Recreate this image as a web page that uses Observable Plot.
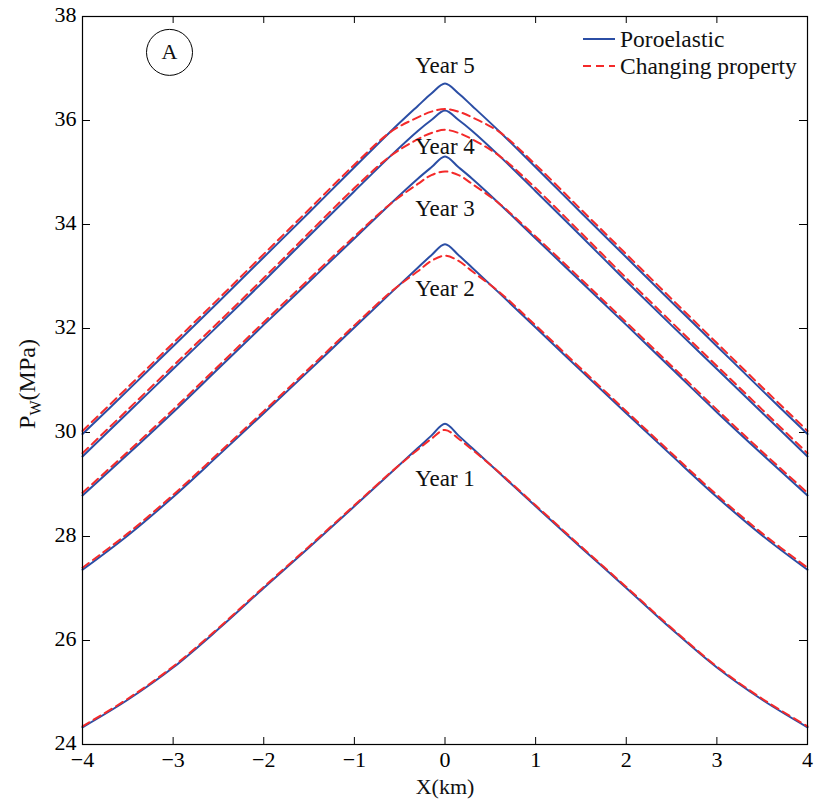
<!DOCTYPE html>
<html><head><meta charset="utf-8">
<script src="https://cdn.jsdelivr.net/npm/d3@7"></script>
<script src="https://cdn.jsdelivr.net/npm/@observablehq/plot@0.6"></script>
<style>body{margin:0;background:#fff}</style>
</head><body><div id="chart"></div>
<script>
// ---- data ----
const xs = [-4,-3.5,-3,-2.5,-2,-1.5,-1,-0.6,-0.3,-0.15,0,0.15,0.3,0.6,1,1.5,2,2.5,3,3.5,4];
const years = ["Year 1","Year 2","Year 3","Year 4","Year 5"];
const poro1 = [24.33,24.86,25.48,26.22,27.01,27.79,28.58,29.22,29.7,29.94,30.17,29.94,29.7,29.22,28.58,27.79,27.01,26.22,25.48,24.86,24.33];
const poro2 = [27.36,28.02,28.76,29.56,30.37,31.19,32.02,32.68,33.17,33.41,33.62,33.41,33.17,32.68,32.02,31.19,30.37,29.56,28.76,28.02,27.36];
const poro3 = [28.79,29.58,30.39,31.23,32.07,32.9,33.73,34.4,34.88,35.1,35.31,35.1,34.88,34.4,33.73,32.9,32.07,31.23,30.39,29.58,28.79];
const poro4 = [29.54,30.38,31.22,32.06,32.91,33.78,34.64,35.32,35.8,36.01,36.19,36.01,35.8,35.32,34.64,33.78,32.91,32.06,31.22,30.38,29.54];
const poro5 = [29.97,30.81,31.66,32.51,33.37,34.23,35.1,35.79,36.28,36.52,36.71,36.52,36.28,35.79,35.1,34.23,33.37,32.51,31.66,30.81,29.97];
const chg1 = [24.35,24.88,25.5,26.24,27.03,27.81,28.6,29.23,29.67,29.88,30.05,29.88,29.67,29.23,28.6,27.81,27.03,26.24,25.5,24.88,24.35];
const chg2 = [27.4,28.06,28.8,29.6,30.41,31.23,32.06,32.7,33.1,33.3,33.4,33.3,33.1,32.7,32.06,31.23,30.41,29.6,28.8,28.06,27.4];
const chg3 = [28.84,29.63,30.44,31.28,32.12,32.95,33.77,34.4,34.78,34.95,35.02,34.95,34.78,34.4,33.77,32.95,32.12,31.28,30.44,29.63,28.84];
const chg4 = [29.6,30.44,31.28,32.12,32.97,33.84,34.7,35.32,35.64,35.76,35.82,35.76,35.64,35.32,34.7,33.84,32.97,32.12,31.28,30.44,29.6];
const chg5 = [30.03,30.87,31.72,32.57,33.43,34.29,35.15,35.78,36.06,36.17,36.22,36.17,36.06,35.78,35.15,34.29,33.43,32.57,31.72,30.87,30.03];
const labelY = [29.12,32.77,34.31,35.49,37.06];
const xTicks = [-4,-3,-2,-1,0,1,2,3,4];
const yTicks = [24,26,28,30,32,34,36,38];
const legendNames = ["Poroelastic","Changing property"];
const panel = {x:-3.04, y:37.31, text:"A"};

// ---- build tables ----
const poroSeries = [poro1,poro2,poro3,poro4,poro5];
const chgSeries = [chg1,chg2,chg3,chg4,chg5];
const rows = (series) => series.flatMap((vals,k) => vals.map((v,i) => ({x:xs[i], y:v, year:years[k]})));
const poroRows = rows(poroSeries);
const chgRows = rows(chgSeries);

const BLUE = "#2b4ea5", RED = "#f42a2a";
const FONT = "'Liberation Serif','Times New Roman',serif";
const fmt = d => d < 0 ? "\u2212" + Math.abs(d) : String(d);
const tx = 8/90.6, ty = 7/52;

const chart = Plot.plot({
  width: 814, height: 799,
  marginLeft: 82, marginRight: 7, marginTop: 16, marginBottom: 55,
  style: {fontFamily: FONT, fontSize: "22px", background: "#fff", color: "#000"},
  x: {domain: [-4, 4]},
  y: {domain: [24, 38]},
  marks: [
    Plot.axisX(xTicks, {anchor: "bottom", tickSize: 0, tickPadding: 7, label: null, tickFormat: fmt, fontSize: 22}),
    Plot.axisY(yTicks, {anchor: "left", tickSize: 0, tickPadding: 6, label: null, tickFormat: fmt, fontSize: 22, dy: -2}),
    Plot.ruleX(xTicks, {x: d => d, y1: 24, y2: 24 + ty, stroke: "black"}),
    Plot.ruleX(xTicks, {x: d => d, y1: 38 - ty, y2: 38, stroke: "black"}),
    Plot.ruleY(yTicks, {y: d => d, x1: -4, x2: -4 + tx, stroke: "black"}),
    Plot.ruleY(yTicks, {y: d => d, x1: 4 - tx, x2: 4, stroke: "black"}),
    Plot.line(poroRows, {x: "x", y: "y", z: "year", stroke: BLUE, strokeWidth: 2, curve: "catmull-rom"}),
    Plot.line(chgRows, {x: "x", y: "y", z: "year", stroke: RED, strokeWidth: 2, strokeDasharray: "8,5", curve: "catmull-rom"}),
    Plot.text(years, {x: () => 0, y: (d, i) => labelY[i], text: d => d, fontSize: 23, fill: "#111"}),
    Plot.dot([panel], {x: "x", y: "y", r: 23, stroke: "black", strokeWidth: 1, fill: "none"}),
    Plot.text([panel], {x: "x", y: "y", text: "text", fontSize: 22, fill: "#111"}),
    Plot.frame({stroke: "black", strokeWidth: 1.2})
  ]
});

const svg = d3.select(chart);
// y label with subscript
const yl = svg.append("text")
  .attr("transform", "translate(35,384) rotate(-90)")
  .attr("text-anchor", "middle")
  .attr("font-family", FONT).attr("font-size", 24).attr("fill", "#111");
yl.append("tspan").text("P");
yl.append("tspan").attr("font-size", 16).attr("dy", 6).text("W");
yl.append("tspan").attr("dy", -6).text("(MPa)");
// x label
svg.append("text").attr("x", 445).attr("y", 794).attr("text-anchor", "middle")
  .attr("font-family", FONT).attr("font-size", 22).attr("fill", "#111").text("X(km)");
// legend
const lg = svg.append("g").attr("font-family", FONT).attr("font-size", 23.5).attr("fill", "#111")
  .attr("text-anchor", "start");
[[BLUE, null], [RED, "8,5"]].forEach(([c, dash], i) => {
  const yy = 39 + i * 27;
  const ln = lg.append("line").attr("x1", 583).attr("x2", 615).attr("y1", yy).attr("y2", yy)
    .attr("stroke", c).attr("stroke-width", 2);
  if (dash) ln.attr("stroke-dasharray", dash);
  lg.append("text").attr("x", 620).attr("y", yy).attr("dy", "0.33em")
    .attr("text-anchor", "start").text(legendNames[i]);
});

document.getElementById("chart").appendChild(chart);
</script>
</body></html>
